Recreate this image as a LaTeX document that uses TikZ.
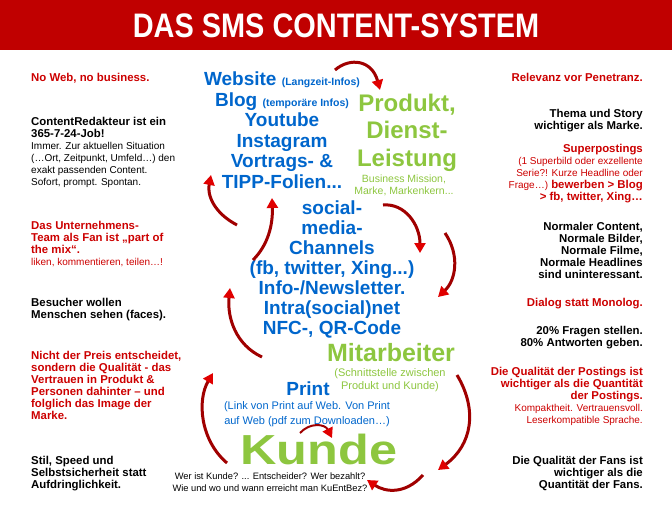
\documentclass[tikz,border=0pt]{standalone}
\usepackage{fontspec}
\setmainfont{Liberation Sans}
\newfontfamily\titlefont{Liberation Sans}[FakeStretch=0.85]
\newfontfamily\widefont{Liberation Sans}[FakeStretch=1.2]
\usetikzlibrary{arrows.meta}
\definecolor{banner}{HTML}{C00000}
\definecolor{txtred}{HTML}{CC0000}
\definecolor{txtblue}{HTML}{0066CC}
\definecolor{txtgreen}{HTML}{8DC63F}
\definecolor{arrdark}{HTML}{A00000}
\definecolor{arrtip}{HTML}{E00000}
\newcommand{\nm}[1]{{\fontsize{10}{12}\selectfont\mdseries #1}}

\begin{document}
\begin{tikzpicture}[x=1pt, y=-1pt,
  lt/.style={anchor=base west, align=left, inner sep=0pt, font=\fontsize{11.4}{12}\selectfont\bfseries},
  rt/.style={anchor=base east, align=right, inner sep=0pt, font=\fontsize{11.4}{12}\selectfont\bfseries},
  mid/.style={anchor=base, align=center, inner sep=0pt},
  cyc/.style={line width=3pt, draw=arrdark, -{Triangle[width=11pt,length=10pt,color=arrtip]}}
]
\useasboundingbox (0,0) rectangle (672,506);
\fill[banner] (0,0) rectangle (672,50);
\node[text=white, font=\titlefont\fontsize{34}{36}\selectfont\bfseries] (title) at (336,26) {DAS SMS CONTENT-SYSTEM};

% left column (anchored at the last baseline)
\node[lt, text=txtred] (noweb) at (31,81) {No Web, no business.};
\node[lt] (redakteur) at (31,185) {ContentRedakteur ist ein\\365-7-24-Job!\\\nm{Immer. Zur aktuellen Situation}\\\nm{(…Ort, Zeitpunkt, Umfeld…) den}\\\nm{exakt passenden Content.}\\\nm{Sofort, prompt. Spontan.}};
\node[lt, text=txtred] (team) at (31,265) {Das Unternehmens-\\Team als Fan ist „part of\\the mix“.\\\nm{liken, kommentieren, teilen…!}};
\node[lt] (besucher) at (31,318) {Besucher wollen\\Menschen sehen (faces).};
\node[lt, text=txtred] (preis) at (31,419) {Nicht der Preis entscheidet,\\sondern die Qualität - das\\Vertrauen in Produkt \&\\Personen dahinter – und\\folglich das Image der\\Marke.};
\node[lt] (stil) at (31,488) {Stil, Speed und\\Selbstsicherheit statt\\Aufdringlichkeit.};

% right column
\node[rt, text=txtred] (relevanz) at (643,81) {Relevanz vor Penetranz.};
\node[rt] (thema) at (643,129) {Thema und Story\\wichtiger als Marke.};
\node[rt, text=txtred] (super) at (643,200) {Superpostings\\\nm{(1 Superbild oder exzellente}\\\nm{Serie?! Kurze Headline oder}\\\nm{Frage…)} bewerben > Blog\\> fb, twitter, Xing…};
\node[rt] (normal) at (643,278) {Normaler Content,\\Normale Bilder,\\Normale Filme,\\Normale Headlines\\sind uninteressant.};
\node[rt, text=txtred] (dialog) at (643,306) {Dialog statt Monolog.};
\node[rt] (fragen) at (643,346) {20\% Fragen stellen.\\80\% Antworten geben.};
\node[rt, text=txtred] (quali) at (643,423) {Die Qualität der Postings ist\\wichtiger als die Quantität\\der Postings.\\\nm{Kompaktheit. Vertrauensvoll.}\\\nm{Leserkompatible Sprache.}};
\node[rt] (fans) at (643,488) {Die Qualität der Fans ist\\wichtiger als die\\Quantität der Fans.};

% centre
\node[mid, text=txtblue, font=\fontsize{19}{20.5}\selectfont\bfseries] (web) at (282,188) {Website {\fontsize{10.5}{12}\selectfont(Langzeit-Infos)}\\Blog {\fontsize{10.5}{12}\selectfont(temporäre Infos)}\\Youtube\\Instagram\\Vortrags- \&\\TIPP-Folien...};
\node[mid, text=txtgreen, font=\fontsize{24}{27.5}\selectfont\bfseries] (produkt) at (407,166) {Produkt,\\Dienst-\\Leistung};
\node[mid, text=txtgreen, font=\fontsize{10.5}{12}\selectfont] (mission) at (404,194) {Business Mission,\\Marke, Markenkern...};
\node[mid, text=txtblue, font=\fontsize{19}{20}\selectfont\bfseries] (social) at (332,334) {social-\\media-\\Channels\\(fb, twitter, Xing...)\\Info-/Newsletter.\\Intra(social)net\\NFC-, QR-Code};
\node[mid, text=txtgreen, font=\fontsize{25}{28}\selectfont\bfseries] (mitarbeiter) at (391,361) {Mitarbeiter};
\node[mid, text=txtgreen, font=\fontsize{11}{13}\selectfont] (schnitt) at (390,389) {(Schnittstelle zwischen\\Produkt und Kunde)};
\node[mid, text=txtblue, font=\fontsize{19}{20}\selectfont\bfseries] (print) at (308,395) {Print};
\node[mid, text=txtblue, font=\fontsize{11}{15}\selectfont] (link) at (307,424) {(Link von Print auf Web. Von Print\\auf Web (pdf zum Downloaden…)};
\node[mid, text=txtgreen, font=\widefont\fontsize{42}{42}\selectfont\bfseries] (kunde) at (319,464) {Kunde};
\node[mid, font=\fontsize{9.3}{11.5}\selectfont] (wer) at (270,491) {Wer ist Kunde? ... Entscheider? Wer bezahlt?\\Wie und wo und wann erreicht man KuEntBez?};

% cycle arrows
\coordinate (a1s) at (335,70);  \coordinate (a1e) at (380,90);
\coordinate (a2s) at (237,225); \coordinate (a2e) at (211,175);
\coordinate (a3s) at (253,260); \coordinate (a3e) at (272,198);
\coordinate (a4s) at (262,357); \coordinate (a4e) at (230,288);
\coordinate (a5s) at (383,205); \coordinate (a5e) at (420,253);
\coordinate (a6s) at (445,233); \coordinate (a6e) at (438,297);
\coordinate (a7s) at (457,375); \coordinate (a7e) at (438,470);
\coordinate (a8s) at (423,475); \coordinate (a8e) at (367,480);
\coordinate (a9s) at (300,433); \coordinate (a9e) at (332,438);
\coordinate (a10s) at (227,463); \coordinate (a10e) at (213,373);

\draw[cyc] (a1s) .. controls (350,57) and (372,60) .. (a1e);
\draw[cyc] (a2s) .. controls (214,213) and (207,195) .. (a2e);
\draw[cyc] (a3s) .. controls (268,245) and (273,225) .. (a3e);
\draw[cyc] (a4s) .. controls (236,345) and (227,318) .. (a4e);
\draw[cyc] (a5s) .. controls (405,203) and (420,225) .. (a5e);
\draw[cyc] (a6s) .. controls (460,255) and (456,280) .. (a6e);
\draw[cyc] (a7s) .. controls (478,410) and (472,445) .. (a7e);
\draw[cyc] (a8s) .. controls (405,495) and (385,492) .. (a8e);
\draw[cyc, line width=2pt] (a9s) .. controls (310,422) and (325,424) .. (a9e);
\draw[cyc] (a10s) .. controls (200,440) and (197,400) .. (a10e);
\end{tikzpicture}
\end{document}
